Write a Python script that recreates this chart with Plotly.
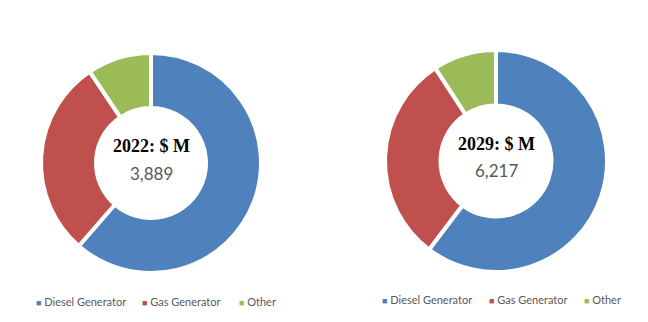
import plotly.graph_objects as go

labels = ["Diesel Generator", "Gas Generator", "Other"]
colors = ["#4F81BD", "#C0504D", "#9BBB59"]
share_2022 = [61.4, 29.2, 9.4]
share_2029 = [60.9, 30.8, 9.3]
years = ["2022", "2029"]
totals = ["3,889", "6,217"]

W, H = 648, 322
# pie centres / radii in pixels (layout)
geo = [(151, 163, 110), (496, 161, 111)]

fig = go.Figure()
for vals, (cx, cy, r) in zip([share_2022, share_2029], geo):
    fig.add_trace(go.Pie(
        labels=labels, values=vals, sort=False, direction="clockwise", rotation=0,
        hole=0.5, textinfo="none", hoverinfo="label+percent",
        marker=dict(colors=colors, line=dict(color="white", width=4)),
        domain=dict(x=[(cx - r) / W, (cx + r) / W], y=[1 - (cy + r) / H, 1 - (cy - r) / H]),
        showlegend=False,
    ))

annotations = []
for (cx, cy, r), yr, tot in zip(geo, years, totals):
    annotations.append(dict(x=cx / W, y=1 - (cy - 17) / H, xref="paper", yref="paper",
                            xanchor="center", yanchor="middle",
                            text=f"<b>{yr}: $ M</b>", showarrow=False,
                            font=dict(family="Liberation Serif", size=18, color="#000000")))
    annotations.append(dict(x=cx / W, y=1 - (cy + 10) / H, xref="paper", yref="paper",
                            xanchor="center", yanchor="middle",
                            text=tot, showarrow=False,
                            font=dict(family="Lato", size=17, color="#595959")))

# manual legends (small square markers like the reference)
legend_x = [[34, 140, 237], [380, 487, 582]]
legend_y = [301, 299]
for xs, ly in zip(legend_x, legend_y):
    for x0, lab, col in zip(xs, labels, colors):
        annotations.append(dict(x=x0 / W, y=1 - ly / H, xref="paper", yref="paper",
                                xanchor="left", yanchor="middle", showarrow=False,
                                text=f"<span style='color:{col};font-size:9px'>■</span> {lab}",
                                font=dict(family="Lato", size=11, color="#595959")))

fig.update_layout(
    width=W, height=H, margin=dict(l=0, r=0, t=0, b=0),
    paper_bgcolor="white", plot_bgcolor="white",
    annotations=annotations,
)
fig.write_html("out.html")
